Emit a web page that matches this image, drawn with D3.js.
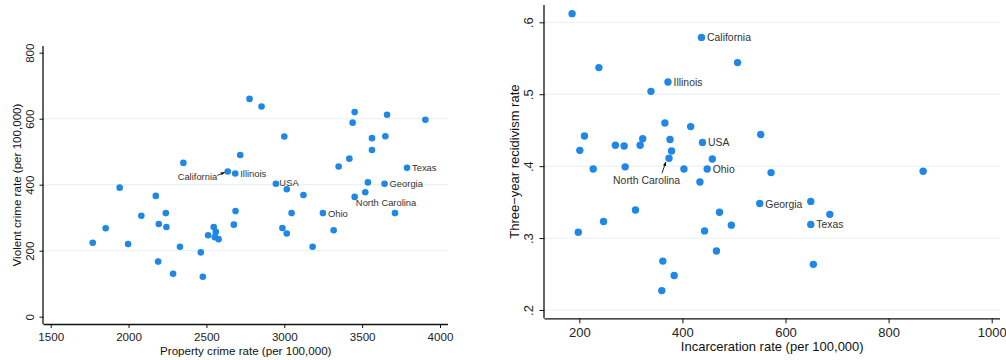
<!DOCTYPE html>
<html>
<head>
<meta charset="utf-8">
<script src="https://cdn.jsdelivr.net/npm/d3@7"></script>
<style>
  html, body { margin: 0; padding: 0; background: #fff; }
  svg { display: block; font-family: "Liberation Sans", Arial, Helvetica, sans-serif; }
</style>
</head>
<body>
<svg id="chart" width="1006" height="360"></svg>
<script>
// ---- Panel 1: property vs violent crime rates by state ----
const propertyCrime = [1770, 1853, 1943, 1997, 2082, 2175, 2194, 2190, 2239, 2243, 2286, 2330, 2352,
  2464, 2477, 2511, 2547, 2560, 2554, 2578, 2637, 2685, 2676, 2687, 2717, 2777, 2854, 3000, 2946,
  3016, 3123, 3047, 2988, 3016, 3182, 3248, 3317, 3349, 3418, 3452, 3439, 3563, 3563, 3649, 3660,
  3906, 3537, 3520, 3452, 3644, 3788, 3711];
const violentCrime = [224, 268, 391, 220, 306, 366, 281, 167, 314, 272, 130, 212, 466,
  195, 121, 247, 272, 257, 241, 235, 440, 434, 279, 320, 490, 660, 637, 546, 403,
  386, 369, 314, 269, 252, 212, 314, 262, 455, 479, 620, 588, 541, 505, 547, 612,
  597, 407, 377, 363, 403, 451, 314];
const crimeNames = ["", "", "", "", "", "", "", "", "", "", "", "", "",
  "", "", "", "", "", "", "", "California", "Illinois", "", "", "", "", "", "", "USA",
  "", "", "", "", "", "", "Ohio", "", "", "", "", "", "", "", "", "",
  "", "", "", "North Carolina", "Georgia", "Texas", ""];
const crimeTicksX = [1500, 2000, 2500, 3000, 3500, 4000];
const crimeTicksY = [0, 200, 400, 600, 800];
const crimeGridY = [200, 400, 600];

// ---- Panel 2: incarceration vs recidivism by state ----
const incarceration = [186, 238, 437, 507, 372, 339, 366, 416, 210, 201, 227, 270, 287, 289, 318,
  323, 376, 379, 374, 403, 439, 458, 448, 434, 309, 247, 198, 472, 443, 495, 466, 362, 384, 360,
  552, 572, 867, 550, 649, 686, 649, 654];
const recidivism = [0.612, 0.537, 0.579, 0.544, 0.517, 0.504, 0.460, 0.455, 0.442, 0.422, 0.396,
  0.429, 0.428, 0.399, 0.429, 0.438, 0.437, 0.421, 0.411, 0.396, 0.433, 0.410, 0.396, 0.378,
  0.339, 0.323, 0.308, 0.336, 0.310, 0.318, 0.282, 0.268, 0.248, 0.227, 0.444, 0.391, 0.393,
  0.348, 0.351, 0.333, 0.319, 0.2635];
const prisonNames = ["", "", "California", "", "Illinois", "", "", "", "", "", "",
  "", "", "", "", "", "", "", "North Carolina", "", "USA", "", "Ohio", "",
  "", "", "", "", "", "", "", "", "", "", "", "", "",
  "Georgia", "", "", "Texas", ""];
const prisonTicksX = [200, 400, 600, 800, 1000];
const prisonTicksY = [0.2, 0.3, 0.4, 0.5, 0.6];
const prisonTickLabelsY = [".2", ".3", ".4", ".5", ".6"];

const DOT = "#1f87e6";
const GRID = "#e6eff1";
const svg = d3.select("#chart");

svg.append("defs").append("marker")
  .attr("id", "arrowhead")
  .attr("viewBox", "0 0 10 10")
  .attr("refX", 9).attr("refY", 5)
  .attr("markerWidth", 5).attr("markerHeight", 5)
  .attr("orient", "auto")
  .append("path").attr("d", "M0,1.5L10,5L0,8.5Z").attr("fill", "#111");

function drawPanel(cfg) {
  const g = svg.append("g");
  const x = d3.scaleLinear().domain(cfg.xDomain).range(cfg.xRange);
  const y = d3.scaleLinear().domain(cfg.yDomain).range(cfg.yRange);
  const [L, R, T, B] = [cfg.frame.left, cfg.frame.right, cfg.frame.top, cfg.frame.bottom];

  // horizontal gridlines
  g.append("g").selectAll("line").data(cfg.grid).join("line")
    .attr("x1", L).attr("x2", R)
    .attr("y1", d => y(d)).attr("y2", d => y(d))
    .attr("stroke", GRID).attr("stroke-width", 1);

  // x axis
  const ax = g.append("g").attr("transform", `translate(0,${B})`)
    .call(d3.axisBottom(x).tickValues(cfg.xTicks).tickSize(cfg.tick).tickSizeOuter(0).tickPadding(2)
      .tickFormat(d3.format("d")));
  ax.select(".domain").attr("d", `M${L},0.5H${R}`).attr("stroke", "#111").attr("stroke-width", 1.3);
  ax.selectAll(".tick line").attr("stroke", "#111");
  ax.selectAll(".tick text").attr("font-size", cfg.tickFont).attr("fill", "#222")
    .attr("y", cfg.xLabelGap).attr("dy", "0.35em");

  // y axis with rotated tick labels
  const ay = g.append("g").attr("transform", `translate(${L},0)`)
    .call(d3.axisLeft(y).tickValues(cfg.yTicks).tickSize(cfg.tick).tickSizeOuter(0)
      .tickFormat((d, i) => cfg.yTickLabels[i]));
  ay.select(".domain").attr("d", `M-0.5,${T}V${B}`).attr("stroke", "#111").attr("stroke-width", 1.3);
  ay.selectAll(".tick line").attr("stroke", "#111");
  ay.selectAll(".tick text").attr("font-size", cfg.tickFont).attr("fill", "#222")
    .attr("x", null).attr("dy", null)
    .attr("text-anchor", "middle").attr("dominant-baseline", "central")
    .attr("transform", `translate(${-cfg.yLabelGap},0) rotate(-90)`);

  // axis titles
  g.append("text").attr("x", (L + R) / 2).attr("y", cfg.xTitleY)
    .attr("text-anchor", "middle").attr("dominant-baseline", "central")
    .attr("font-size", cfg.tickFont).attr("fill", "#111").text(cfg.xTitle);
  g.append("text")
    .attr("transform", `translate(${cfg.yTitleX},${(T + B) / 2}) rotate(-90)`)
    .attr("text-anchor", "middle").attr("dominant-baseline", "central")
    .attr("font-size", cfg.tickFont).attr("fill", "#111").text(cfg.yTitle);

  // points
  const pts = cfg.xs.map((v, i) => ({ x: v, y: cfg.ys[i], name: cfg.names[i] }));
  g.append("g").selectAll("circle").data(pts).join("circle")
    .attr("cx", d => x(d.x)).attr("cy", d => y(d.y))
    .attr("r", cfg.r).attr("fill", DOT);

  // state labels
  const labelled = pts.filter(d => d.name);
  labelled.forEach(d => {
    const p = cfg.place[d.name] || cfg.place._default;
    const cx = x(d.x), cy = y(d.y);
    g.append("text")
      .attr("x", cx + p.dx).attr("y", cy + p.dy)
      .attr("text-anchor", p.anchor || "start").attr("dominant-baseline", "central")
      .attr("font-size", cfg.labelFont).attr("fill", "#333").text(d.name);
    if (p.arrow) {
      g.append("line")
        .attr("x1", cx + p.arrow[0]).attr("y1", cy + p.arrow[1])
        .attr("x2", cx + p.arrow[2]).attr("y2", cy + p.arrow[3])
        .attr("stroke", "#111").attr("stroke-width", 0.9)
        .attr("marker-end", "url(#arrowhead)");
    }
  });
}

drawPanel({
  xs: propertyCrime, ys: violentCrime, names: crimeNames,
  xDomain: [1500, 4000], xRange: [50.7, 440],
  yDomain: [0, 800], yRange: [316.7, 52.7],
  frame: { left: 43.5, right: 448, top: 46, bottom: 324 },
  grid: crimeGridY, xTicks: crimeTicksX, yTicks: crimeTicksY,
  yTickLabels: crimeTicksY.map(String),
  tick: 4, tickFont: 11.6, labelFont: 9.4, r: 3.3,
  xLabelGap: 12.7, yLabelGap: 14, xTitleY: 350, yTitleX: 16.7,
  xTitle: "Property crime rate (per 100,000)",
  yTitle: "Violent crime rate (per 100,000)",
  place: {
    _default: { dx: 5, dy: 0 },
    "California": { dx: -10.5, dy: 4.7, anchor: "end", arrow: [-10.3, 3.9, -3, 0.8] },
    "USA": { dx: 3.5, dy: -1.2 },
    "North Carolina": { dx: 1.2, dy: 5.2 }
  }
});

drawPanel({
  xs: incarceration, ys: recidivism, names: prisonNames,
  xDomain: [200, 1000], xRange: [579.3, 991.7],
  yDomain: [0.2, 0.6], yRange: [310, 22.3],
  frame: { left: 544.5, right: 1000, top: 5, bottom: 318.3 },
  grid: prisonTicksY, xTicks: prisonTicksX, yTicks: prisonTicksY,
  yTickLabels: prisonTickLabelsY,
  tick: 5, tickFont: 13, labelFont: 10.4, r: 3.7,
  xLabelGap: 14.4, yLabelGap: 16, xTitleY: 346, yTitleX: 514,
  xTitle: "Incarceration rate (per 100,000)",
  yTitle: "Three\u2212year recidivism rate",
  place: {
    _default: { dx: 5.6, dy: 0.5 },
    "North Carolina": { dx: -22.4, dy: 22, anchor: "middle", arrow: [-7, 15, -3.2, 3.8] }
  }
});
</script>
</body>
</html>
